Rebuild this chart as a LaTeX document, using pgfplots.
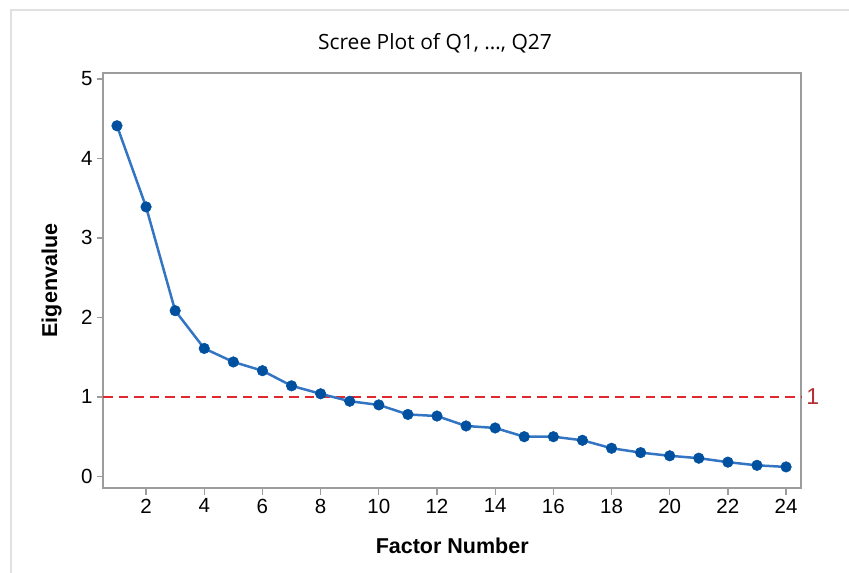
\documentclass[border=0pt]{standalone}
\usepackage{fontspec}
\setmainfont{Liberation Sans}
\newfontfamily\titlefont{Open Sans}
\usepackage{pgfplots}
\pgfplotsset{compat=1.18}
\definecolor{framegrey}{HTML}{9C9C9C}
\definecolor{screeblue}{HTML}{0050A0}
\definecolor{screeline}{HTML}{3375C2}
\definecolor{refred}{HTML}{E2282E}
\definecolor{reflabel}{HTML}{B52E33}

\begin{document}
\begin{tikzpicture}[x=1pt,y=1pt]
\useasboundingbox (0,0) rectangle (849,573);
\draw[color=black!12, line width=1.5pt] (11,0) -- (11,563) -- (849,563);
\node[anchor=base, font=\titlefont\fontsize{21}{25}\selectfont, text=black] at (435,523) {Scree Plot of Q1, …, Q27};
\begin{axis}[
    at={(103.3pt,85pt)}, anchor=south west,
    scale only axis, width=697.9pt, height=414.7pt,
    xmin=0.53, xmax=24.52, ymin=-0.145, ymax=5.07,
    xtick={2,4,...,24}, ytick={0,1,...,5},
    tick pos=left, tick align=outside,
    major tick length=6.5pt,
    axis line style={framegrey, line width=1.8pt},
    every tick/.style={framegrey, line width=1.3pt},
    tick label style={font=\fontsize{20.5}{24}\selectfont, text=black},
    /pgf/number format/assume math mode=true,
    xticklabel style={inner sep=1pt, yshift=-3pt},
    yticklabel style={inner sep=1pt, xshift=-3pt},
    xlabel=Factor Number, ylabel=Eigenvalue,
    label style={font=\bfseries\fontsize{21.5}{25}\selectfont, text=black},
    xlabel style={at={(axis description cs:0.5,-0.159)}, anchor=base},
    ylabel style={at={(axis description cs:-0.0663,0.5)}, anchor=base},
    clip=false,
]
\addplot[refred, line width=2.2pt, dash pattern=on 9.5pt off 6pt] coordinates {(0.53,1) (24.52,1)};
\addplot[screeline, line width=2.5pt, mark=*, mark size=5.3pt,
    mark options={solid, fill=screeblue, draw=screeblue, line width=0.5pt}] coordinates {
    (1,4.41) (2,3.39) (3,2.085) (4,1.61) (5,1.44) (6,1.33)
    (7,1.14) (8,1.04) (9,0.946) (10,0.90) (11,0.78) (12,0.76)
    (13,0.635) (14,0.61) (15,0.50) (16,0.50) (17,0.455) (18,0.355)
    (19,0.30) (20,0.26) (21,0.23) (22,0.18) (23,0.14) (24,0.12)
};
\node[anchor=west, inner sep=0pt, xshift=5pt, text=reflabel, font=\fontsize{23}{27}\selectfont] at (axis cs:24.52,1) {1};
\end{axis}
\end{tikzpicture}
\end{document}
